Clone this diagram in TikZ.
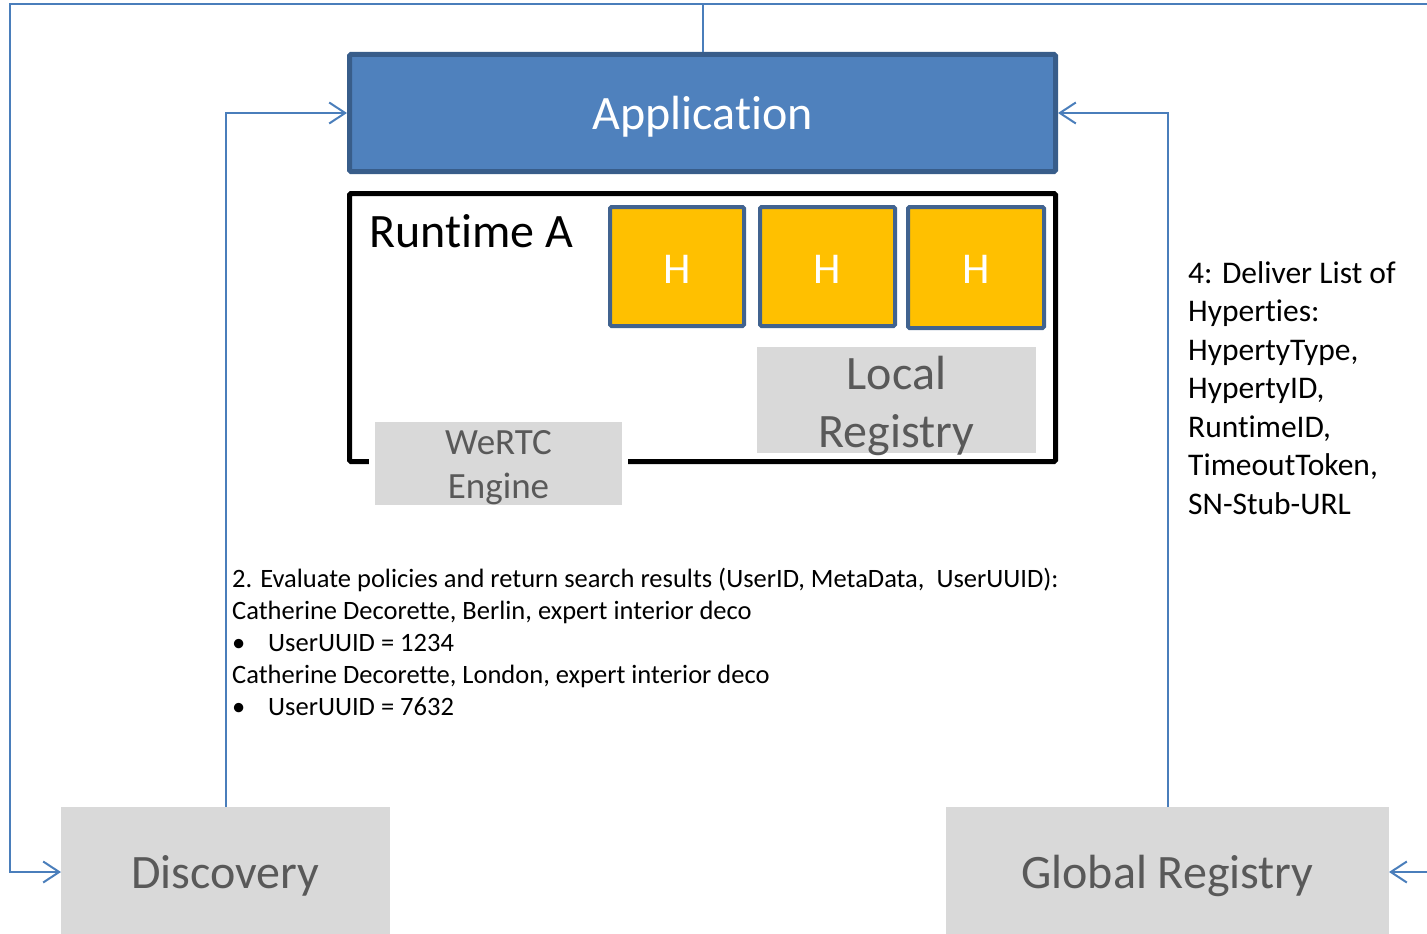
\documentclass[tikz,border=0pt]{standalone}
\usepackage{fontspec}
\setmainfont[Ligatures=NoCommon]{Carlito}
\usetikzlibrary{arrows.meta}
\definecolor{appfill}{HTML}{4F81BD}
\definecolor{appdraw}{HTML}{385D8A}
\definecolor{hfill}{HTML}{FFC000}
\definecolor{hdraw}{HTML}{41638F}
\definecolor{grayfill}{HTML}{D9D9D9}
\definecolor{graytext}{HTML}{595959}
\definecolor{conn}{HTML}{4A7EBB}
\tikzset{
  appbox/.style={draw=appdraw,fill=appfill,line width=5pt,rounded corners=1.5pt,minimum width=706pt,minimum height=117pt,inner sep=0pt},
  rtbox/.style={draw=black,line width=5pt,rounded corners=1.5pt,minimum width=706pt,minimum height=268pt,inner sep=0pt},
  hbox/.style={draw=hdraw,fill=hfill,line width=4pt,rounded corners=1.5pt,minimum height=119pt,inner sep=0pt},
  graybox/.style={fill=grayfill,inner sep=0pt},
  bigtxt/.style={font=\fontsize{48}{56}\selectfont,inner sep=0pt},
  conn/.style={draw=conn,line width=2pt,-{Straight Barb[length=16pt,width=21pt,line width=2pt]}},
  connplain/.style={draw=conn,line width=2pt},
  txt/.style={font=\fontsize{26.5}{32}\selectfont,inner sep=0pt,anchor=base west},
  rtxt/.style={font=\fontsize{31.5}{38.5}\selectfont,inner sep=0pt,anchor=base west},
}
\begin{document}
\begin{tikzpicture}[x=1pt,y=-1pt]
\useasboundingbox (0,0) rectangle (1427,934);
\clip (0,0) rectangle (1427,934);
% boxes
\node[appbox] (app) at (702.5,113) {};
\node[bigtxt,text=white,anchor=base] (apptxt) at (702.5,129) {Application};
\node[rtbox] (rt) at (702.5,327.5) {};
\node[bigtxt,anchor=base west] (rttxt) at (369,247) {Runtime A};
\node[hbox,minimum width=134pt] (h1) at (677,266.5) {};
\node[hbox,minimum width=135pt] (h2) at (827.5,266.5) {};
\node[hbox,minimum width=136pt,minimum height=121pt] (h3) at (976,267.5) {};
\foreach \n/\x in {h1t/677,h2t/827.5,h3t/976}
  \node[font=\fontsize{44}{48}\selectfont,text=white,anchor=base,inner sep=0pt] (\n) at (\x,283) {H};
% local registry
\node[graybox,minimum width=279pt,minimum height=106pt] (lr) at (896.5,400) {};
\node[bigtxt,text=graytext,anchor=base] (lr1) at (896.5,389) {Local};
\node[bigtxt,text=graytext,anchor=base] (lr2) at (896.5,447) {Registry};
% WeRTC engine
\node[graybox,draw=white,line width=6pt,minimum width=253pt,minimum height=89pt] (we) at (498.5,463.5) {};
\node[graybox,minimum width=247pt,minimum height=83pt] (we2) at (498.5,463.5) {};
\node[font=\fontsize{37}{44}\selectfont,text=graytext,anchor=base,inner sep=0pt] (we1t) at (498.5,454) {WeRTC};
\node[font=\fontsize{37}{44}\selectfont,text=graytext,anchor=base,inner sep=0pt] (we2t) at (498.5,498) {Engine};
% bottom boxes
\node[graybox,minimum width=329pt,minimum height=140pt] (disc) at (225.5,877) {};
\node[bigtxt,text=graytext,anchor=base] (disct) at (225.5,888) {Discovery};
\node[graybox,minimum width=443pt,minimum height=140pt] (glob) at (1167.5,877) {};
\node[bigtxt,text=graytext,anchor=base] (globt) at (1167.5,888) {Global Registry};
% text block
\node[txt] (t1) at (232,587) {2. Evaluate policies and return search results (UserID, MetaData,\ \ UserUUID):};
\node[txt] (t2) at (232,619) {Catherine Decorette, Berlin, expert interior deco};
\node[txt] (t3b) at (232,651) {•};
\node[txt] (t3) at (268,651) {UserUUID = 1234};
\node[txt] (t4) at (232,683) {Catherine Decorette, London, expert interior deco};
\node[txt] (t5b) at (232,715) {•};
\node[txt] (t5) at (268,715) {UserUUID = 7632};
% right text
\foreach \i/\s in {0/{4: Deliver List of},1/{Hyperties:},2/{HypertyType,},3/{HypertyID,},4/{RuntimeID,},5/{TimeoutToken,},6/{SN-Stub-URL}}
  \node[rtxt] (r\i) at (1188,283+38.5*\i) {\s};
% connectors
\coordinate (dtop) at (226,807);
\coordinate (gtop) at (1168,807);
\coordinate (atop) at (703,52);
\coordinate (topL) at (10,4);
\coordinate (topM) at (703,4);
\coordinate (topR) at (1445,4);
\coordinate (discL) at (61,872);
\coordinate (globR) at (1389,872);
\coordinate (appL) at (347,113);
\coordinate (appR) at (1058,113);
\draw[conn] (dtop) |- (appL);
\draw[conn] (gtop) |- (appR);
\draw[connplain] (atop) -- (topM);
\draw[conn] (topM) -- (topL) |- (discL);
\draw[conn] (topM) -- (topR) |- (globR);
\end{tikzpicture}
\end{document}
